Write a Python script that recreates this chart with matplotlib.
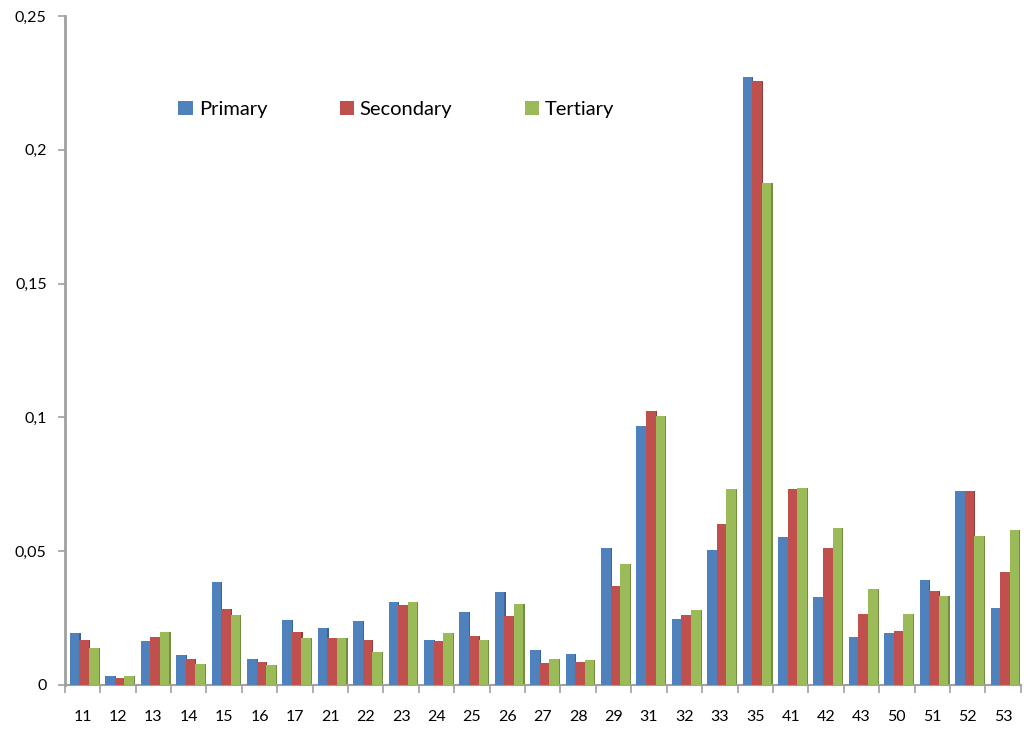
import numpy as np
import matplotlib.pyplot as plt

# categories and values
categories = ["11", "12", "13", "14", "15", "16", "17", "21", "22", "23", "24", "25", "26", "27",
              "28", "29", "31", "32", "33", "35", "41", "42", "43", "50", "51", "52", "53"]
primary = [0.0193, 0.0031, 0.0163, 0.0110, 0.0385, 0.0096, 0.0243, 0.0214, 0.0238, 0.0309,
           0.0166, 0.0271, 0.0348, 0.0131, 0.0116, 0.0512, 0.0966, 0.0244, 0.0504, 0.2273,
           0.0554, 0.0328, 0.0179, 0.0193, 0.0390, 0.0726, 0.0286]
secondary = [0.0166, 0.0026, 0.0180, 0.0098, 0.0283, 0.0084, 0.0198, 0.0176, 0.0167, 0.0298,
             0.0162, 0.0183, 0.0258, 0.0081, 0.0084, 0.0371, 0.1025, 0.0261, 0.0602, 0.2258,
             0.0731, 0.0511, 0.0266, 0.0202, 0.0352, 0.0726, 0.0423]
tertiary = [0.0138, 0.0031, 0.0199, 0.0076, 0.0262, 0.0074, 0.0176, 0.0173, 0.0123, 0.0310,
            0.0193, 0.0169, 0.0301, 0.0095, 0.0093, 0.0450, 0.1006, 0.0280, 0.0731, 0.1874,
            0.0734, 0.0585, 0.0359, 0.0266, 0.0330, 0.0557, 0.0578]
yticks = [0, 0.05, 0.1, 0.15, 0.2, 0.25]
ylabels = ["0", "0,05", "0,1", "0,15", "0,2", "0,25"]

series = [("Primary", primary, "#4F81BD", "#3A6398"),
          ("Secondary", secondary, "#C0504D", "#943C3A"),
          ("Tertiary", tertiary, "#9BBB59", "#728C40")]

plt.rcParams['font.family'] = ['Lato', 'DejaVu Sans']

fig = plt.figure(figsize=(10.28, 7.30), dpi=100)
ax = fig.add_axes([0.063, 0.062, 0.93, 0.916])

x = np.arange(len(categories))
w = 0.27
for i, (name, vals, col, dark) in enumerate(series):
    pos = x + (i - 1) * w + 0.05
    # darker side strip for a bit of 3D look
    ax.bar(pos + w * 0.5, vals, width=w * 0.25, color=dark, zorder=2)
    ax.bar(pos, vals, width=w, color=col, label=name, zorder=3)

ax.set_xlim(-0.5, len(categories) - 0.5)
ax.set_ylim(0, 0.25)
ax.set_yticks(yticks)
ax.set_yticklabels(ylabels)
ax.set_xticks(x)
ax.set_xticklabels(categories)
ax.set_xticks(np.arange(len(categories) + 1) - 0.5, minor=True)

ax.tick_params(axis='x', which='major', length=0, pad=18, labelsize=11.5)
ax.tick_params(axis='x', which='minor', length=6, color='#A0A0A0', width=1.2)
ax.tick_params(axis='y', length=5, color='#A0A0A0', width=1.2, labelsize=11.5, pad=8)

for s in ['top', 'right']:
    ax.spines[s].set_visible(False)
ax.spines['left'].set_color('#A0A0A0')
ax.spines['left'].set_linewidth(2)
ax.spines['bottom'].set_color('#A0A0A0')
ax.spines['bottom'].set_linewidth(1.5)

ax.legend(loc='upper left', bbox_to_anchor=(0.1, 0.9), ncol=3, frameon=False,
          fontsize=14.5, handlelength=0.7, handleheight=0.7, handletextpad=0.3,
          columnspacing=3.6)

fig.savefig("out.png", dpi=100)
